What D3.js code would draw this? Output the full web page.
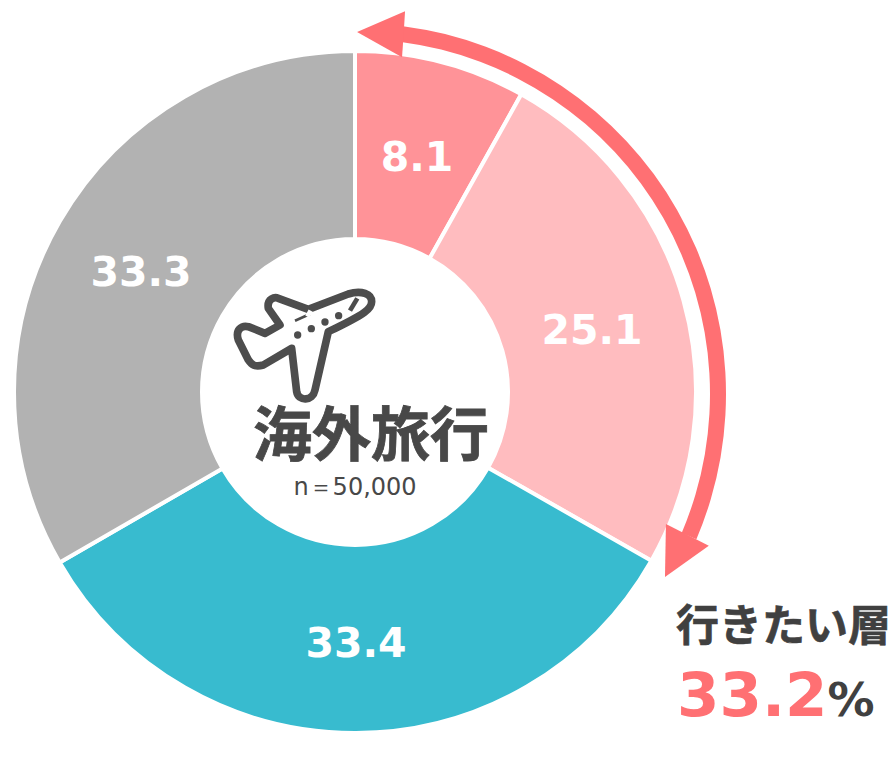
<!DOCTYPE html>
<html><head><meta charset="utf-8">
<script src="https://cdn.jsdelivr.net/npm/d3@7"></script>
<style>html,body{margin:0;padding:0;background:#fff}svg{display:block}</style></head>
<body><svg id="c" width="893" height="757"></svg>
<script>
const categories = ["行きたい","やや行きたい","どちらでもない","行きたくない"];
const values = [8.1, 25.1, 33.4, 33.3];
const colors = ["#ff9398","#ffbcbf","#38bbcf","#b2b2b2"];
const valueLabels = ["8.1","25.1","33.4","33.3"];
const labelPos = [[417,156],[592,329],[356,642],[141,271]];
const plane = "M265 118L385 72C425 60 455 72 455 95C455 115 440 130 325 185L285 360C278 395 235 395 230 365L215 235L130 285C105 292 95 285 85 270L55 210C45 180 65 165 85 170L135 190L180 165L145 115C140 85 165 80 175 85Z";
const svg = d3.select("#c");
const cx=355, cy=392, ro=341, ri=153;
const g = svg.append("g").attr("transform",`translate(${cx},${cy})`);
const pie = d3.pie().value(d=>d).sort(null)(values);
const arc = d3.arc().innerRadius(ri).outerRadius(ro);
g.selectAll("path.s").data(pie).join("path").attr("class","s").attr("d",arc)
 .attr("fill",(d,i)=>colors[i]).attr("stroke","#fff").attr("stroke-width",4);

// bracket arrow spanning the first two slices
const ang = d3.scaleLinear().domain([0,100]).range([0,2*Math.PI]);
const arrowStart = ang(2.07), arrowEnd = ang(31.4);
const pol=(a,r)=>[r*Math.sin(a), -r*Math.cos(a)];
const ga = svg.append("g").attr("transform",`translate(${cx},${cy+2})`).attr("fill","#ff7073");
ga.append("path")
 .attr("d",d3.arc().innerRadius(355).outerRadius(371).startAngle(arrowStart).endAngle(arrowEnd)());
const heads=[[pol(ang(0.09),362),pol(ang(2.07),386),pol(ang(2.21),340)],
             [pol(ang(33.49),360),pol(ang(31.3),337),pol(ang(31.45),385)]];
ga.selectAll("path.h").data(heads).join("path").attr("class","h")
 .attr("d",d=>d3.line()(d)+"Z");

// value labels
svg.selectAll("text.v").data(valueLabels).join("text").attr("class","v")
 .attr("x",(d,i)=>labelPos[i][0]).attr("y",(d,i)=>labelPos[i][1]+15).attr("text-anchor","middle")
 .attr("font-family","'DejaVu Sans'").attr("font-weight",700).attr("font-size",41).attr("fill","#fff").text(d=>d);

// plane icon
const p = svg.append("g").attr("transform","translate(220,270) scale(0.3333)");
p.append("path").attr("d",plane).attr("fill","#fff").attr("stroke","#4d4d4d").attr("stroke-width",23).attr("stroke-linejoin","round");
p.append("path").attr("d","M225 152L270 132").attr("fill","none").attr("stroke","#4d4d4d").attr("stroke-width",8);
p.append("path").attr("d","M412 85L390 122").attr("fill","none").attr("stroke","#4d4d4d").attr("stroke-width",14);
p.append("path").attr("d","M272 122L262 140").attr("fill","none").attr("stroke","#fff").attr("stroke-width",14);
p.selectAll("circle").data([[233,195],[274,176],[315,156],[356,137]]).join("circle")
 .attr("cx",d=>d[0]).attr("cy",d=>d[1]).attr("r",11).attr("fill","#4d4d4d");

const cjk="'Noto Sans CJK JP'";
svg.append("text").attr("x",371).attr("y",456).attr("text-anchor","middle").attr("font-family",cjk).attr("font-weight",700).attr("font-size",59).attr("fill","#484848").attr("stroke","#484848").attr("stroke-width",0.8).text("海外旅行");
svg.append("text").attr("x",355).attr("y",495).attr("text-anchor","middle").attr("font-family","'DejaVu Sans'").attr("font-size",24).attr("fill","#484848").text("n＝50,000");
svg.append("text").attr("x",676).attr("y",641).attr("font-family",cjk).attr("font-weight",700).attr("font-size",43).attr("fill","#404040").attr("stroke","#404040").attr("stroke-width",0.6).text("行きたい層");
const t=svg.append("text").attr("x",677).attr("y",716).attr("font-family","'DejaVu Sans'").attr("font-weight",700);
t.append("tspan").attr("font-size",61).attr("fill","#ff7073").text("33.2");
t.append("tspan").attr("font-size",47).attr("fill","#404040").text("%");
</script></body></html>
